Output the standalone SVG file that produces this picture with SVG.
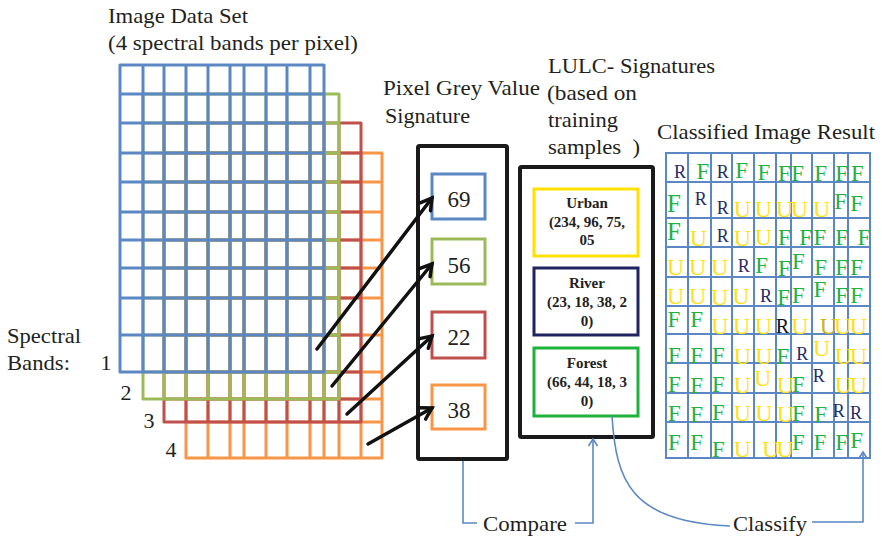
<svg xmlns="http://www.w3.org/2000/svg" width="882" height="539" viewBox="0 0 882 539" font-family="'Liberation Serif', 'Times New Roman', serif">
<defs>
<style>
text{font-family:'Liberation Serif','Times New Roman',serif;fill:#231f20}
.lbl{font-size:22px}
.band{fill:none;stroke-width:3;stroke-linejoin:round;stroke-linecap:round}
.blk{fill:#fff;stroke:#1a1a1a;stroke-width:4;stroke-linejoin:round}
.pv{fill:#fff;stroke-width:3}
.num{font-size:23px;text-anchor:middle}
.sig{fill:#fff;stroke-width:3}
.st{font-size:15px;font-weight:bold;text-anchor:middle}
.conn{fill:none;stroke:#5b87c4;stroke-width:1.6}
.arr{fill:none;stroke:#111;stroke-width:3.5;stroke-linecap:round}
.cg{fill:none;stroke:#5b87c4;stroke-width:2}
.F{font-size:23px;fill:#1fb23c;text-anchor:middle}
.U{font-size:24px;fill:#ffe11a;text-anchor:middle}
.R{font-size:18px;fill:#262a66;text-anchor:middle}
</style>
<marker id="ah" markerUnits="userSpaceOnUse" markerWidth="20" markerHeight="20" refX="0" refY="0" viewBox="-14 -10 20 20" orient="auto">
<path d="M-11,-6.5 L0,0 L-11,6.5" fill="none" stroke="#111" stroke-width="3.5" stroke-linecap="round" stroke-linejoin="miter"/>
</marker>
<marker id="bh" markerUnits="userSpaceOnUse" markerWidth="16" markerHeight="16" refX="0" refY="0" viewBox="-10 -8 16 16" orient="auto">
<path d="M-7,-4.5 L0,0 L-7,4.5" fill="none" stroke="#5b87c4" stroke-width="1.6"/>
</marker>
</defs>
<rect width="882" height="539" fill="#fff"/>

<g id="titles">
<text class="lbl" x="108" y="23" textLength="140" lengthAdjust="spacingAndGlyphs">Image Data Set</text>
<text class="lbl" x="108" y="50" textLength="250" lengthAdjust="spacingAndGlyphs">(4 spectral bands per pixel)</text>
<text class="lbl" x="7" y="343" textLength="74" lengthAdjust="spacingAndGlyphs">Spectral</text>
<text class="lbl" x="7" y="370" textLength="63" lengthAdjust="spacingAndGlyphs">Bands:</text>
<text class="lbl" x="106" y="370" text-anchor="middle">1</text>
<text class="lbl" x="126" y="400" text-anchor="middle">2</text>
<text class="lbl" x="149" y="428" text-anchor="middle">3</text>
<text class="lbl" x="171" y="457" text-anchor="middle">4</text>
<text class="lbl" x="383" y="95" textLength="157" lengthAdjust="spacingAndGlyphs">Pixel Grey Value</text>
<text class="lbl" x="385" y="123" textLength="85" lengthAdjust="spacingAndGlyphs">Signature</text>
<text class="lbl" x="548" y="73" textLength="167" lengthAdjust="spacingAndGlyphs">LULC- Signatures</text>
<text class="lbl" x="547" y="100" textLength="90" lengthAdjust="spacingAndGlyphs">(based on</text>
<text class="lbl" x="548" y="127" textLength="70" lengthAdjust="spacingAndGlyphs">training</text>
<text class="lbl" x="548" y="154" textLength="92" lengthAdjust="spacingAndGlyphs" xml:space="preserve">samples  )</text>
<text class="lbl" x="657" y="139" textLength="218" lengthAdjust="spacingAndGlyphs">Classified Image Result</text>
</g>

<g id="image-data-set">
<path class="band" stroke="#f79646" d="M186,153H382V458H186Z M208,153V458 M230,153V458 M244,153V458 M266,153V458 M287,153V458 M310,153V458 M324,153V458 M339,153V458 M361,153V458 M186,182H382 M186,212H382 M186,240H382 M186,268H382 M186,298H382 M186,335H382 M186,372H382 M186,399H382 M186,422H382"/>
<path class="band" stroke="#c0504d" d="M164,123H361V422H164Z M186,123V422 M208,123V422 M230,123V422 M244,123V422 M266,123V422 M287,123V422 M310,123V422 M324,123V422 M339,123V422 M164,153H361 M164,182H361 M164,212H361 M164,240H361 M164,268H361 M164,298H361 M164,335H361 M164,372H361 M164,399H361"/>
<path class="band" stroke="#9bbb59" d="M143,94H339V399H143Z M164,94V399 M186,94V399 M208,94V399 M230,94V399 M244,94V399 M266,94V399 M287,94V399 M310,94V399 M324,94V399 M143,123H339 M143,153H339 M143,182H339 M143,212H339 M143,240H339 M143,268H339 M143,298H339 M143,335H339 M143,372H339"/>
<path class="band" stroke="#5b87c4" d="M120,65H324V372H120Z M143,65V372 M164,65V372 M186,65V372 M208,65V372 M230,65V372 M244,65V372 M266,65V372 M287,65V372 M310,65V372 M120,94H324 M120,123H324 M120,153H324 M120,182H324 M120,212H324 M120,240H324 M120,268H324 M120,298H324 M120,335H324"/>
</g>

<g id="pixel-signature">
<rect class="blk" x="418" y="146" width="89" height="313" rx="1.5"/>
<rect class="pv" stroke="#5b87c4" x="432" y="174" width="53" height="45"/>
<text class="num" x="459" y="207">69</text>
<rect class="pv" stroke="#9bbb59" x="432" y="239" width="53" height="45"/>
<text class="num" x="459" y="273">56</text>
<rect class="pv" stroke="#c0504d" x="432" y="312" width="53" height="46"/>
<text class="num" x="459" y="345">22</text>
<rect class="pv" stroke="#f79646" x="432" y="385" width="53" height="44"/>
<text class="num" x="459" y="418">38</text>
</g>

<g id="lulc-signatures">
<rect class="blk" x="520" y="167" width="133" height="270" rx="1.5"/>
<rect class="sig" stroke="#ffe000" x="534" y="189" width="104" height="67"/>
<text class="st" x="587" y="208">Urban</text>
<text class="st" x="587" y="227">(234, 96, 75,</text>
<text class="st" x="587" y="245">05</text>
<rect class="sig" stroke="#1f2460" x="534" y="268" width="104" height="67"/>
<text class="st" x="587" y="288">River</text>
<text class="st" x="587" y="307">(23, 18, 38, 2</text>
<text class="st" x="587" y="326">0)</text>
<rect class="sig" stroke="#1db33a" x="534" y="348" width="104" height="68"/>
<text class="st" x="587" y="368">Forest</text>
<text class="st" x="587" y="387">(66, 44, 18, 3</text>
<text class="st" x="587" y="406">0)</text>
</g>

<g id="classified-image">
<path class="cg" d="M666,153H870V458H666Z M688,153V458 M711,153V458 M732,153V458 M754,153V458 M776,153V458 M791,153V458 M812,153V458 M834,153V458 M848,153V458 M666,182H870 M666,218H870 M666,247H870 M666,277H870 M666,306H870 M666,334H870 M666,363H870 M666,393H870 M666,422H870"/>
<text class="R" x="680" y="177.7">R</text><text class="F" x="703" y="179.3">F</text><text class="R" x="722.7" y="177.7">R</text><text class="F" x="741.7" y="178.3">F</text><text class="F" x="764" y="180">F</text><text class="F" x="784.3" y="180.7">F</text><text class="F" x="797.7" y="180.7">F</text><text class="F" x="820.7" y="180.7">F</text><text class="F" x="841.7" y="180.7">F</text><text class="F" x="857.3" y="180.7">F</text>
<text class="F" x="674" y="211.7" style="font-size:25px">F</text><text class="R" x="700.7" y="205">R</text><text class="R" x="722.7" y="214">R</text><text class="U" x="742.3" y="217.3">U</text><text class="U" x="763.3" y="217.3">U</text><text class="U" x="784.3" y="217.3">U</text><text class="U" x="799.3" y="217.3">U</text><text class="U" x="821.7" y="217.3">U</text><text class="F" x="840.7" y="209.3">F</text><text class="F" x="856.7" y="210.7">F</text>
<text class="F" x="674" y="240" style="font-size:25px">F</text><text class="U" x="698.3" y="246">U</text><text class="R" x="722.7" y="241.7">R</text><text class="U" x="742.3" y="246">U</text><text class="U" x="763.3" y="245">U</text><text class="F" x="784.3" y="245">F</text><text class="F" x="805.7" y="245">F</text><text class="F" x="820" y="245">F</text><text class="F" x="841.7" y="245">F</text><text class="F" x="864" y="245">F</text>
<text class="U" x="675.7" y="275">U</text><text class="U" x="697.7" y="275">U</text><text class="U" x="719.7" y="275">U</text><text class="R" x="743.7" y="271.7">R</text><text class="F" x="761.7" y="273.3">F</text><text class="F" x="784.3" y="276">F</text><text class="F" x="798.3" y="269.3">F</text><text class="F" x="820.7" y="275">F</text><text class="F" x="841.7" y="275">F</text><text class="F" x="856.7" y="275">F</text>
<text class="U" x="675.7" y="304">U</text><text class="U" x="697.7" y="304">U</text><text class="U" x="719.7" y="305">U</text><text class="U" x="741" y="304">U</text><text class="R" x="766" y="301.7">R</text><text class="F" x="783.7" y="305">F</text><text class="F" x="798.3" y="303.3">F</text><text class="F" x="820" y="296.7">F</text><text class="F" x="841.7" y="303.3">F</text><text class="F" x="856.7" y="303.3">F</text>
<text class="F" x="674" y="326.7">F</text><text class="F" x="696.7" y="327.3">F</text><text class="U" x="720" y="334.3">U</text><text class="U" x="741.7" y="334.3">U</text><text class="U" x="763.3" y="334.3">U</text><text class="R" x="782.3" y="333.3" style="fill:#111;font-size:20px">R</text><text class="U" x="800" y="334.3">U</text><text class="U" x="828.3" y="334.3" style="fill:#c9b420">U</text><text class="U" x="842.7" y="334.3">U</text><text class="U" x="858.3" y="334.3">U</text>
<text class="F" x="674.3" y="363.3">F</text><text class="F" x="696.7" y="363.3">F</text><text class="F" x="718.3" y="363.3">F</text><text class="U" x="742.3" y="364">U</text><text class="U" x="764" y="364">U</text><text class="F" x="783" y="364">F</text><text class="R" x="802.3" y="360">R</text><text class="U" x="821.7" y="356">U</text><text class="U" x="843.3" y="364">U</text><text class="U" x="858.3" y="364">U</text>
<text class="F" x="674.3" y="391.7">F</text><text class="F" x="696.7" y="393.3">F</text><text class="F" x="718.3" y="391.7">F</text><text class="U" x="742.3" y="392.7">U</text><text class="U" x="762.7" y="386">U</text><text class="U" x="785.3" y="393.3">U</text><text class="F" x="798.3" y="391.7">F</text><text class="R" x="818.7" y="381.7">R</text><text class="U" x="843.3" y="392.7">U</text><text class="U" x="858.3" y="392.7">U</text>
<text class="F" x="674.3" y="420.7">F</text><text class="F" x="696.7" y="421.7">F</text><text class="F" x="718.3" y="420">F</text><text class="U" x="742.3" y="420.7">U</text><text class="U" x="764" y="420.7">U</text><text class="U" x="785.3" y="421.7">U</text><text class="F" x="798.3" y="420.7">F</text><text class="F" x="820.7" y="421.7">F</text><text class="R" x="838.7" y="417.3">R</text><text class="R" x="856" y="419">R</text>
<text class="F" x="674.3" y="450">F</text><text class="F" x="696.7" y="450">F</text><text class="F" x="718.3" y="456.7">F</text><text class="U" x="742.3" y="456.7">U</text><text class="U" x="770.7" y="456.7">U</text><text class="U" x="785" y="456.7">U</text><text class="F" x="798.3" y="450">F</text><text class="F" x="820" y="450">F</text><text class="F" x="841.7" y="450">F</text><text class="F" x="856.7" y="448.3">F</text>
</g>

<g id="connectors">
<line class="arr" x1="317" y1="349" x2="432" y2="198" marker-end="url(#ah)"/>
<line class="arr" x1="332" y1="386" x2="432" y2="264" marker-end="url(#ah)"/>
<line class="arr" x1="347" y1="414" x2="432" y2="336" marker-end="url(#ah)"/>
<line class="arr" x1="368" y1="444" x2="432" y2="408" marker-end="url(#ah)"/>
<path class="conn" d="M463,461V523H477"/>
<path class="conn" d="M575,523H593V439" marker-end="url(#bh)"/>
<path class="conn" d="M612,416 C616,480 630,522 730,526"/>
<path class="conn" d="M812,522H863V452" marker-end="url(#bh)"/>
<text class="lbl" x="483" y="531" textLength="84" lengthAdjust="spacingAndGlyphs">Compare</text>
<text class="lbl" x="733" y="531" textLength="74" lengthAdjust="spacingAndGlyphs">Classify</text>
</g>
</svg>
